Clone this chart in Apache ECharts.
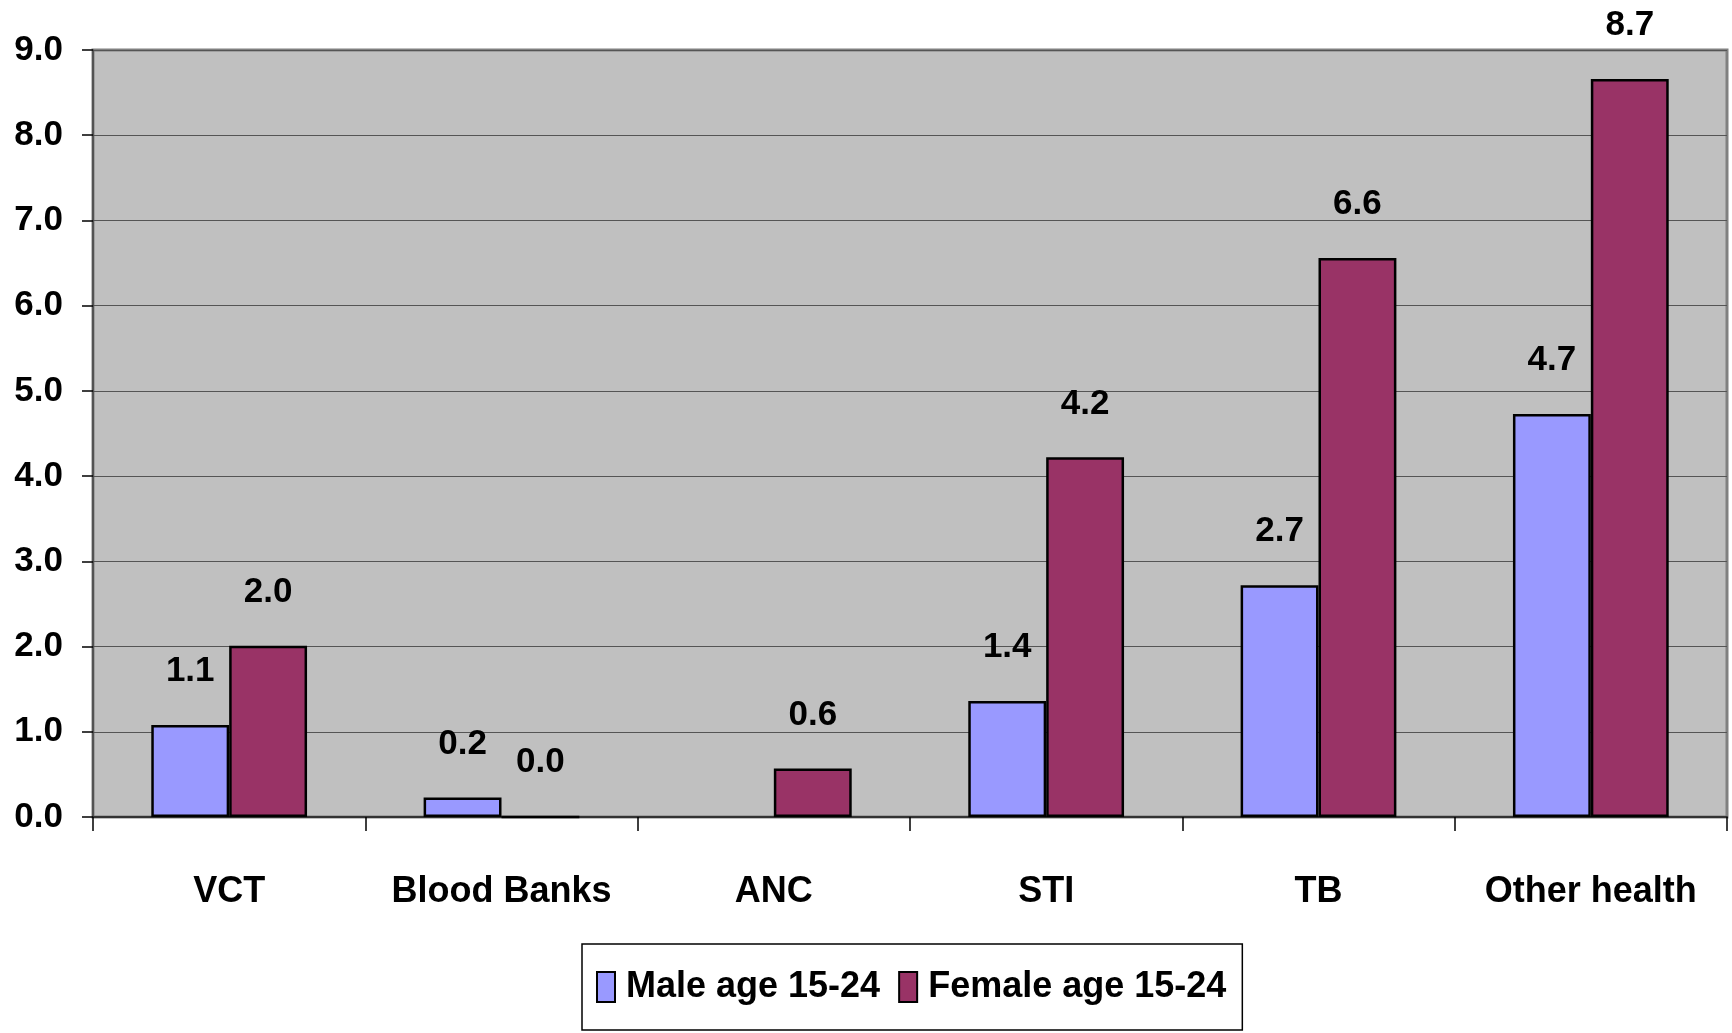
<!DOCTYPE html>
<html>
<head>
<meta charset="utf-8">
<script src="https://cdn.jsdelivr.net/npm/echarts@6/dist/echarts.min.js"></script>
<style>html,body{margin:0;padding:0;background:#fff}#c{width:1732px;height:1033px}</style>
</head>
<body>
<div id="c"></div>
<script>
var categories = ['VCT', 'Blood Banks', 'ANC', 'STI', 'TB', 'Other health'];
var maleValues = [1.08, 0.23, null, 1.36, 2.72, 4.73];
var femaleValues = [2.01, 0.0, 0.57, 4.22, 6.56, 8.66];
var seriesNames = ['Male age 15-24', 'Female age 15-24'];
var yTicks = [0, 1, 2, 3, 4, 5, 6, 7, 8, 9];

var FONT = '"Liberation Sans", Arial, sans-serif';
var chart = echarts.init(document.getElementById('c'));
var labelCfg = {
  show: true, position: 'top', distance: 36,
  fontFamily: FONT, fontWeight: 'bold', fontSize: 35, color: '#000',
  formatter: function (p) { return p.value == null ? '' : p.value.toFixed(1); }
};
chart.setOption({
  backgroundColor: '#fff',
  animation: false,
  grid: {
    left: 93, right: 5, top: 50, bottom: 216,
    show: true, backgroundColor: '#C0C0C0', borderColor: '#808080', borderWidth: 3
  },
  legend: {
    data: seriesNames,
    left: 582, top: 944,
    orient: 'horizontal',
    backgroundColor: '#fff', borderColor: '#000', borderWidth: 1.5,
    padding: [25, 16, 25, 14],
    itemWidth: 18, itemHeight: 30, itemGap: 18, icon: 'rect',
    textStyle: { fontFamily: FONT, fontWeight: 'bold', fontSize: 36, color: '#000', padding: [0, 0, 0, 6] }
  },
  xAxis: {
    type: 'category', data: categories,
    axisLine: { lineStyle: { color: '#333', width: 2 } },
    axisTick: { show: true, interval: 0, length: 14, lineStyle: { color: '#000', width: 1.5 } },
    axisLabel: { interval: 0, margin: 57, fontFamily: FONT, fontWeight: 'bold', fontSize: 36, color: '#000' }
  },
  yAxis: {
    type: 'value', min: yTicks[0], max: yTicks[yTicks.length - 1], interval: 1,
    axisLine: { show: true, lineStyle: { color: '#444', width: 1.5 } },
    axisTick: { show: true, length: 11, lineStyle: { color: '#000', width: 1.5 } },
    splitLine: { show: true, lineStyle: { color: '#555', width: 1.2 } },
    axisLabel: {
      margin: 30, fontFamily: FONT, fontWeight: 'bold', fontSize: 35, color: '#000',
      formatter: function (v) { return v.toFixed(1); }
    }
  },
  series: [
    {
      name: seriesNames[0], type: 'bar', data: maleValues,
      barWidth: '28.6%', barGap: '0%',
      itemStyle: { color: '#9999FF', borderColor: '#000', borderWidth: 2.5 },
      label: labelCfg
    },
    {
      name: seriesNames[1], type: 'bar', data: femaleValues,
      barWidth: '28.6%', barGap: '0%',
      itemStyle: { color: '#993366', borderColor: '#000', borderWidth: 2.5 },
      label: labelCfg
    }
  ]
});
</script>
</body>
</html>
